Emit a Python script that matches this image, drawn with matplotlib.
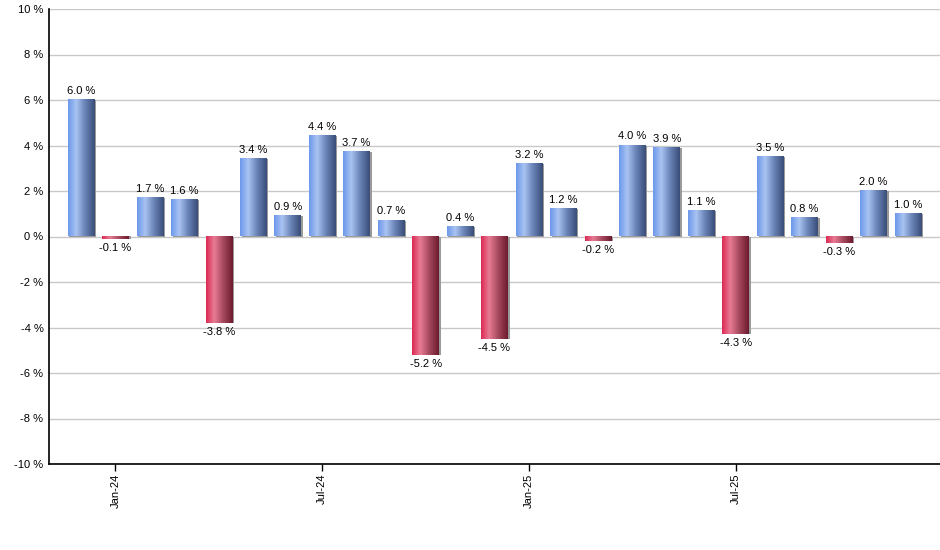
import numpy as np
import matplotlib
matplotlib.use("Agg")
import matplotlib.pyplot as plt
from matplotlib.colors import LinearSegmentedColormap

plt.rcParams['font.family'] = ['Liberation Sans', 'DejaVu Sans']

# monthly returns, Dec-23 .. Dec-25
months = ['Dec-23', 'Jan-24', 'Feb-24', 'Mar-24', 'Apr-24', 'May-24', 'Jun-24',
          'Jul-24', 'Aug-24', 'Sep-24', 'Oct-24', 'Nov-24', 'Dec-24',
          'Jan-25', 'Feb-25', 'Mar-25', 'Apr-25', 'May-25', 'Jun-25',
          'Jul-25', 'Aug-25', 'Sep-25', 'Oct-25', 'Nov-25', 'Dec-25']
returns = [6.0, -0.1, 1.7, 1.6, -3.8, 3.4, 0.9, 4.4, 3.7, 0.7, -5.2, 0.4, -4.5,
           3.2, 1.2, -0.2, 4.0, 3.9, 1.1, -4.3, 3.5, 0.8, -0.3, 2.0, 1.0]
shown_ticks = ['Jan-24', 'Jul-24', 'Jan-25', 'Jul-25']
y_ticks = [-10, -8, -6, -4, -2, 0, 2, 4, 6, 8, 10]

# left-to-right shading of the bars
blue_cm = LinearSegmentedColormap.from_list(
    'blu', [(0, '#6d98ea'), (0.3, '#a9c3f2'), (0.65, '#6781b5'), (1, '#3a4e78')])
red_cm = LinearSegmentedColormap.from_list(
    'red', [(0, '#dc2a55'), (0.3, '#e87b94'), (0.65, '#a4485d'), (1, '#6e1a2e')])
grad = np.linspace(0, 1, 64).reshape(1, -1)

fig = plt.figure(figsize=(9.4, 5.5), dpi=100)
ax = fig.add_axes([49 / 940, 86 / 550, 891 / 940, 455 / 550])

x = np.arange(len(returns))
w = 0.775
for xi, v in zip(x, returns):
    cm = blue_cm if v >= 0 else red_cm
    lo, hi = min(0, v), max(0, v)
    # little shadow on the right side
    ax.add_patch(plt.Rectangle((xi - w / 2 + 0.05, lo), w, hi - lo,
                               color='#9a9a9a', lw=0, zorder=2))
    ax.imshow(grad, cmap=cm, aspect='auto', interpolation='bilinear',
              extent=(xi - w / 2, xi + w / 2, lo, hi), zorder=3)
    lbl = f'{v:.1f} %'
    if v >= 0:
        ax.annotate(lbl, (xi, v), xytext=(0, 3), textcoords='offset points',
                    ha='center', va='bottom', fontsize=8)
    else:
        ax.annotate(lbl, (xi, v), xytext=(0, -3), textcoords='offset points',
                    ha='center', va='top', fontsize=8)

ax.set_xlim(-0.93, 24.93)
ax.set_ylim(-10, 10)
ax.set_yticks(y_ticks)
ax.set_yticklabels([f'{t} %' for t in y_ticks], fontsize=8)
ax.tick_params(axis='y', length=0, pad=4)

tick_pos = [months.index(m) for m in shown_ticks]
ax.set_xticks(tick_pos)
ax.set_xticklabels(shown_ticks, rotation=90, fontsize=8)
ax.tick_params(axis='x', length=5, width=1, pad=2)

ax.grid(axis='y', color='#c8c8c8', lw=1)
ax.set_axisbelow(True)
for s in ['top', 'right']:
    ax.spines[s].set_visible(False)
ax.spines['left'].set_linewidth(1.2)
ax.spines['bottom'].set_linewidth(1.2)

fig.savefig('out.png', dpi=100)
